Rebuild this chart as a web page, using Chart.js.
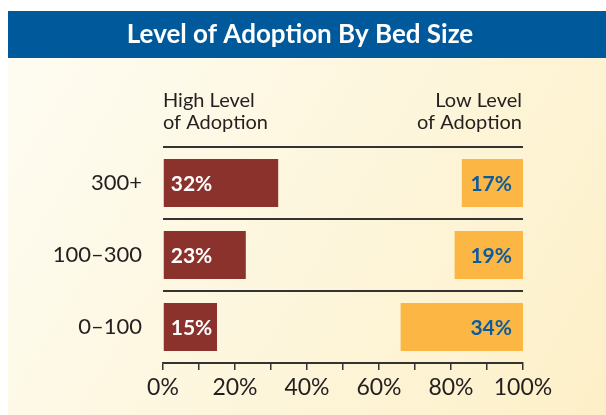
<!DOCTYPE html>
<html>
<head>
<meta charset="utf-8">
<script src="https://cdn.jsdelivr.net/npm/chart.js@4"></script>
<style>
html, body { margin: 0; padding: 0; background: #fff; }
#wrap { width: 606px; height: 415px; }
</style>
</head>
<body>
<div id="wrap"><canvas id="myChart" width="606" height="415"></canvas></div>
<script>
// data
const bedSizes = ['300+', '100–300', '0–100'];
const highAdoption = [32, 23, 15];
const lowAdoption = [17, 19, 34];
const xTickLabels = [0, 20, 40, 60, 80, 100];

const FONT = 'Lato, "Open Sans", sans-serif';

//panel, title bar and column headers
const backdrop = {
    id: 'backdrop',
    beforeDraw(chart) {
        const ctx = chart.ctx;
        ctx.save();
        ctx.fillStyle = '#fff';
        ctx.fillRect(0, 0, 606, 415);
        const grad = ctx.createLinearGradient(8, 58, 606, 415);
        grad.addColorStop(0, '#fefcf2');
        grad.addColorStop(1, '#fdf0c8');
        ctx.fillStyle = grad;
        ctx.fillRect(8, 11, 598, 404);
        ctx.fillStyle = '#00599b';
        ctx.fillRect(8, 11, 598, 47);

        ctx.fillStyle = '#fff';
        ctx.font = 'bold 26px ' + FONT;
        ctx.textAlign = 'center';
        ctx.textBaseline = 'alphabetic';
        ctx.fillText('Level of Adoption By Bed Size', 300, 43);

        ctx.fillStyle = '#231f20';
        ctx.font = '20px ' + FONT;
        ctx.textAlign = 'left';
        ctx.fillText('High Level', 163, 107);
        ctx.fillText('of Adoption', 163, 129);
        ctx.textAlign = 'right';
        ctx.fillText('Low Level', 522, 107);
        ctx.fillText('of Adoption', 522, 129);
        ctx.restore();
    }
};

//percent labels inside bars
const barLabels = {
    id: 'barLabels',
    afterDatasetsDraw(chart) {
        const ctx = chart.ctx;
        ctx.save();
        ctx.font = 'bold 21px ' + FONT;
        ctx.textBaseline = 'middle';
        chart.getDatasetMeta(0).data.forEach((bar, i) => {
            ctx.fillStyle = '#fff';
            ctx.textAlign = 'left';
            ctx.fillText(highAdoption[i] + '%', bar.base + 7, bar.y + 1);
        });
        chart.getDatasetMeta(1).data.forEach((bar, i) => {
            ctx.fillStyle = '#0b5c9e';
            ctx.textAlign = 'right';
            ctx.fillText(lowAdoption[i] + '%', bar.x - 11, bar.y + 1);
        });
        ctx.restore();
    }
};

const ctx = document.getElementById('myChart').getContext('2d');

const myChart = new Chart(ctx, {
    type: 'bar',
    data: {
        labels: bedSizes,
        datasets: [{
            label: 'High Level of Adoption',
            data: highAdoption,
            backgroundColor: '#8c322d'
        }, {
            label: 'Low Level of Adoption',
            data: lowAdoption.map(v => [100 - v, 100]),
            backgroundColor: '#fbb644'
        }]
    },
    options: {
        indexAxis: 'y',
        responsive: false,
        animation: false,
        grouped: false,
        barPercentage: 0.667,
        categoryPercentage: 1,
        layout: {
            padding: { top: 147, right: 83, bottom: 0, left: 0 }
        },
        scales: {
            x: {
                min: 0,
                max: 100,
                afterFit: s => { s.height = 52; },
                ticks: {
                    stepSize: 10,
                    autoSkip: false,
                    maxRotation: 0,
                    padding: 4,
                    color: '#231f20',
                    font: { family: FONT, size: 23 },
                    callback: v => xTickLabels.includes(v) ? v + '%' : ''
                },
                grid: {
                    drawOnChartArea: false,
                    tickLength: 7,
                    color: '#333',
                    lineWidth: 1.5
                },
                border: { display: true, color: '#333', width: 1.5 }
            },
            y: {
                afterFit: s => { s.width = 163; },
                ticks: {
                    padding: 21,
                    color: '#231f20',
                    font: { family: FONT, size: 22 }
                },
                grid: {
                    offset: true,
                    drawTicks: false,
                    color: '#333',
                    lineWidth: 2
                },
                border: { display: false }
            }
        },
        plugins: {
            legend: { display: false },
            tooltip: { enabled: false }
        }
    },
    plugins: [backdrop, barLabels]
});
</script>
</body>
</html>
